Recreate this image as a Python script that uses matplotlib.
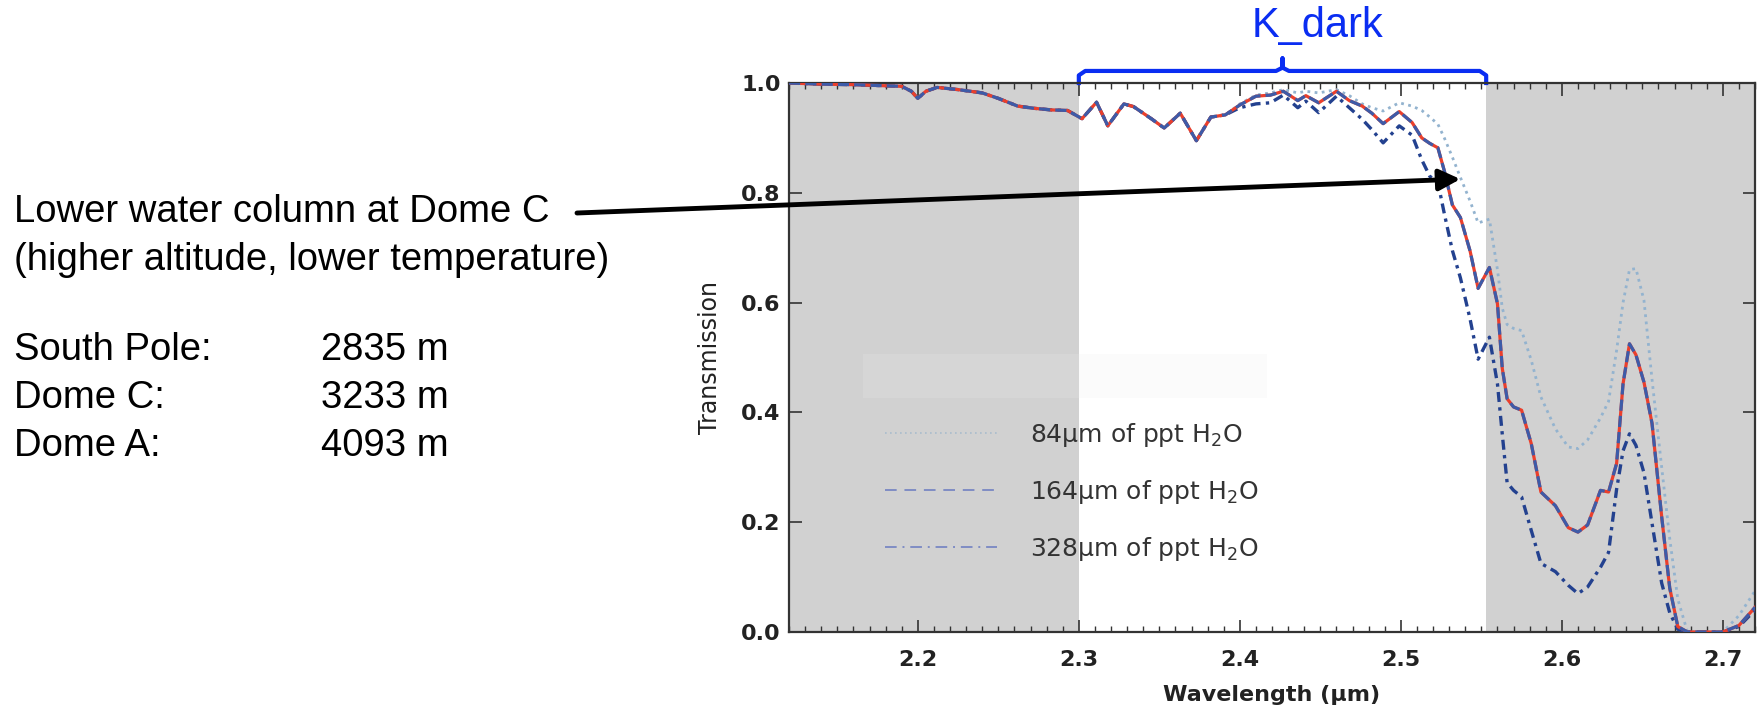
"""Atmospheric transmission in the K band for three precipitable water columns.
"""
import matplotlib.pyplot as plt
from matplotlib.ticker import MultipleLocator

# wavelength grid (micron) shared by the three model curves
wavelength = [2.120, 2.140, 2.160, 2.180, 2.190, 2.196, 2.200, 2.205, 2.212, 2.225,
              2.240, 2.250, 2.262, 2.272, 2.283, 2.293, 2.302, 2.311, 2.318, 2.328,
              2.334, 2.345, 2.353, 2.363, 2.373, 2.382, 2.391, 2.400, 2.410, 2.419,
              2.427, 2.436, 2.441, 2.449, 2.460, 2.468, 2.476, 2.482, 2.489, 2.499,
              2.507, 2.513, 2.518, 2.523, 2.527, 2.532, 2.537, 2.543, 2.548, 2.555,
              2.560, 2.563, 2.566, 2.570, 2.575, 2.581, 2.587, 2.596, 2.604, 2.610,
              2.616, 2.624, 2.629, 2.634, 2.638, 2.642, 2.646, 2.651, 2.656, 2.662,
              2.667, 2.672, 2.678, 2.690, 2.700, 2.710, 2.720]

trans_84 = [1.000, 0.998, 0.997, 0.995, 0.994, 0.985, 0.972, 0.985, 0.992, 0.988,
            0.982, 0.972, 0.958, 0.954, 0.951, 0.950, 0.935, 0.965, 0.922, 0.962,
            0.957, 0.935, 0.918, 0.945, 0.895, 0.938, 0.942, 0.962, 0.978, 0.982,
            0.988, 0.982, 0.985, 0.982, 0.988, 0.977, 0.962, 0.955, 0.949, 0.964,
            0.958, 0.950, 0.938, 0.925, 0.900, 0.865, 0.828, 0.785, 0.745, 0.752,
            0.660, 0.590, 0.560, 0.553, 0.549, 0.495, 0.428, 0.370, 0.337, 0.334,
            0.350, 0.390, 0.420, 0.513, 0.600, 0.660, 0.662, 0.604, 0.460, 0.300,
            0.170, 0.060, 0.000, 0.000, 0.000, 0.030, 0.075]

trans_164 = [1.000, 0.998, 0.997, 0.995, 0.994, 0.985, 0.972, 0.985, 0.992, 0.988,
             0.982, 0.972, 0.958, 0.954, 0.951, 0.950, 0.935, 0.965, 0.922, 0.962,
             0.957, 0.935, 0.918, 0.945, 0.895, 0.938, 0.942, 0.960, 0.976, 0.978,
             0.985, 0.968, 0.977, 0.964, 0.985, 0.968, 0.958, 0.945, 0.926, 0.948,
             0.928, 0.900, 0.890, 0.882, 0.840, 0.778, 0.755, 0.694, 0.626, 0.664,
             0.598, 0.480, 0.425, 0.410, 0.404, 0.343, 0.255, 0.230, 0.190, 0.182,
             0.195, 0.258, 0.255, 0.307, 0.452, 0.525, 0.505, 0.455, 0.380, 0.210,
             0.080, 0.010, 0.000, 0.000, 0.000, 0.012, 0.045]

trans_328 = [1.000, 0.998, 0.997, 0.995, 0.994, 0.985, 0.972, 0.985, 0.992, 0.988,
             0.982, 0.972, 0.958, 0.954, 0.951, 0.950, 0.935, 0.965, 0.922, 0.962,
             0.957, 0.935, 0.918, 0.945, 0.895, 0.938, 0.942, 0.955, 0.962, 0.964,
             0.978, 0.955, 0.967, 0.946, 0.976, 0.955, 0.934, 0.915, 0.891, 0.922,
             0.905, 0.860, 0.830, 0.819, 0.762, 0.695, 0.645, 0.570, 0.497, 0.537,
             0.452, 0.360, 0.272, 0.258, 0.246, 0.185, 0.125, 0.110, 0.085, 0.070,
             0.082, 0.118, 0.145, 0.260, 0.330, 0.361, 0.340, 0.290, 0.198, 0.089,
             0.035, 0.005, 0.000, 0.000, 0.000, 0.010, 0.040]

legend_labels = ["84\u03bcm of ppt H$_2$O", "164\u03bcm of ppt H$_2$O",
                 "328\u03bcm of ppt H$_2$O"]

# K_dark passband edges (micron)
kdark_lo, kdark_hi = 2.30, 2.553

sites = ["South Pole:", "Dome C:", "Dome A:"]
altitudes = ["2835 m", "3233 m", "4093 m"]

fig = plt.figure(figsize=(17.6, 7.09), dpi=100)
ax = fig.add_axes([0.4483, 0.1086, 0.5489, 0.7743])
ax.set_xlim(2.12, 2.72)
ax.set_ylim(0.0, 1.0)

# shade everything outside the K_dark window
ax.axvspan(2.12, kdark_lo, color="#d1d1d1", lw=0, zorder=0)
ax.axvspan(kdark_hi, 2.72, color="#d1d1d1", lw=0, zorder=0)
ax.axhspan(0.427, 0.507, xmin=(2.166 - 2.12) / 0.6, xmax=(2.417 - 2.12) / 0.6,
           color="#eeeeee", alpha=0.2, lw=0, zorder=0.5)

ax.plot(wavelength, trans_84, color="#93b3cf", lw=2.0, ls=(0, (1, 1.6)), zorder=2)
ax.plot(wavelength, trans_328, color="#23418f", lw=2.4, ls=(0, (3, 1.6, 1, 1.6)), zorder=3)
ax.plot(wavelength, trans_164, color="#ea3f2c", lw=2.3, zorder=3)
ax.plot(wavelength, trans_164, color="#3d5ba8", lw=2.3, ls=(0, (3.5, 1.6)), zorder=4)

# legend drawn as separate handles, thinner and paler than the curves
h84, = ax.plot([], [], color="#a9bccd", lw=1.2, ls=(0, (1, 2)))
h164, = ax.plot([], [], color="#7f8dc4", lw=1.4, ls=(0, (6, 4)))
h328, = ax.plot([], [], color="#7f8dc4", lw=1.4, ls=(0, (6, 3, 1, 3)))
leg = ax.legend([h84, h164, h328], legend_labels, loc="upper left",
                bbox_to_anchor=(0.099, 0.384), frameon=False, fontsize=18,
                handlelength=4.5, handletextpad=1.3, labelspacing=1.15,
                borderpad=0, borderaxespad=0)
for t in leg.get_texts():
    t.set_color("#333333")

ax.xaxis.set_major_locator(MultipleLocator(0.1))
ax.xaxis.set_minor_locator(MultipleLocator(0.01))
ax.yaxis.set_major_locator(MultipleLocator(0.2))
ax.xaxis.set_major_formatter(plt.FormatStrFormatter("%.1f"))
ax.yaxis.set_major_formatter(plt.FormatStrFormatter("%.1f"))
ax.tick_params(axis="both", which="both", direction="in", top=True, right=True,
               colors="#333333", labelcolor="#222222")
ax.tick_params(axis="x", which="major", length=9, width=1.2, labelsize=16, pad=13)
ax.tick_params(axis="x", which="minor", length=4.5, width=1.0)
ax.tick_params(axis="y", which="major", length=9, width=1.2, labelsize=16, pad=6)
for lab in ax.get_xticklabels() + ax.get_yticklabels():
    lab.set_fontweight("bold")
for sp in ax.spines.values():
    sp.set_linewidth(1.6)
    sp.set_color("#333333")
ax.set_xlabel("Wavelength (\u03bcm)", fontsize=16, fontweight="bold",
              color="#222222", labelpad=11)
ax.set_ylabel("Transmission", fontsize=17, color="#222222", labelpad=14)

# K_dark bracket above the window
mid = (kdark_lo + kdark_hi) / 2
bx = [kdark_lo, kdark_lo, kdark_lo + 0.004, mid - 0.004, mid, mid, mid,
      mid + 0.004, kdark_hi - 0.004, kdark_hi, kdark_hi]
by = [1.0, 1.014, 1.022, 1.022, 1.028, 1.045, 1.028, 1.022, 1.022, 1.014, 1.0]
ax.plot(bx, by, color="#0a2df2", lw=3, clip_on=False, solid_joinstyle="round")
ax.text(mid + 0.022, 1.104, "K_dark", color="#0a2df2", fontsize=30,
        family="Liberation Sans", ha="center", va="center")

# annotation text and arrow on the left
txt = dict(family="Liberation Sans", fontsize=27.5, color="black")
fig.text(14 / 1760, 1 - 222 / 709, "Lower water column at Dome C", **txt)
fig.text(14 / 1760, 1 - 270 / 709, "(higher altitude, lower temperature)", **txt)
for i, (s, a) in enumerate(zip(sites, altitudes)):
    yb = 1 - (360 + 48 * i) / 709
    fig.text(14 / 1760, yb, s, **txt)
    fig.text(321 / 1760, yb, a, **txt)

ax.annotate("", xy=(2.537, 0.825), xycoords="data",
            xytext=(577 / 1760, 1 - 213 / 709), textcoords="figure fraction",
            arrowprops=dict(arrowstyle="-|>", color="black", lw=3.5,
                            mutation_scale=32, shrinkA=0, shrinkB=0),
            zorder=6)

fig.savefig("out.png", dpi=100)
